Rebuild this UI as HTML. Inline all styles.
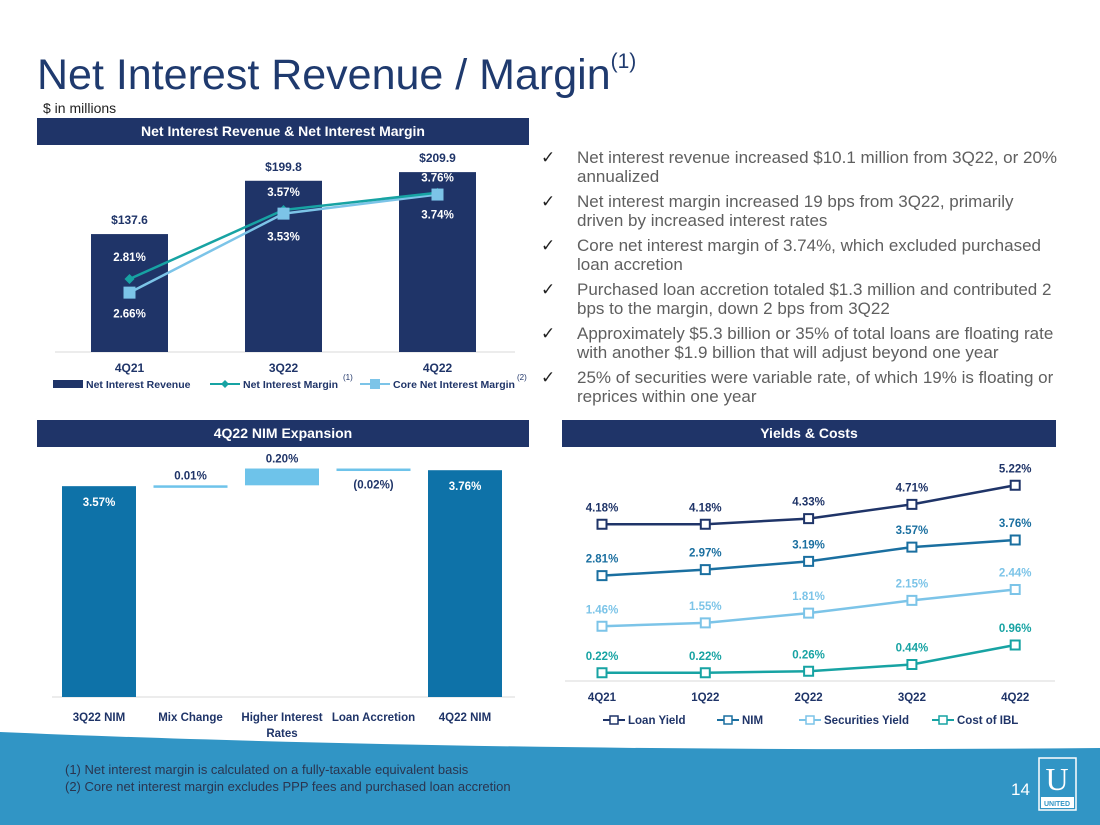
<!DOCTYPE html>
<html><head><meta charset="utf-8">
<style>
body{margin:0;width:1100px;height:825px;position:relative;overflow:hidden;background:#fff;font-family:"Liberation Sans",sans-serif}
.hdr{position:absolute;background:#1f3468;color:#fff;font-weight:bold;font-size:14px;text-align:center;line-height:27px;height:27px}
.bul{position:absolute;left:541px;width:520px;font-size:17px;color:#5f5f5f;line-height:19px}
.bul div{position:relative;padding-left:36px;margin-bottom:6px}
.bul div span{position:absolute;left:0;top:0;color:#222}
svg text{font-family:"Liberation Sans",sans-serif;font-weight:bold}
</style></head><body>
<div style="position:absolute;left:37px;top:51px;font-size:43px;color:#1f3a6e;white-space:nowrap">Net Interest Revenue / Margin<sup style="font-size:21px;position:relative;top:-6px">(1)</sup></div>
<div style="position:absolute;left:43px;top:100px;font-size:14px;color:#222">$ in millions</div>
<div class="hdr" style="left:37px;top:118px;width:492px">Net Interest Revenue &amp; Net Interest Margin</div>
<div class="hdr" style="left:37px;top:420px;width:492px">4Q22 NIM Expansion</div>
<div class="hdr" style="left:562px;top:420px;width:494px">Yields &amp; Costs</div>

<div class="bul" style="top:148px">
<div><span>✓</span>Net interest revenue increased $10.1 million from 3Q22, or 20% annualized</div>
<div><span>✓</span>Net interest margin increased 19 bps from 3Q22, primarily driven by increased interest rates</div>
<div><span>✓</span>Core net interest margin of 3.74%, which excluded purchased loan accretion</div>
<div><span>✓</span>Purchased loan accretion totaled $1.3 million and contributed 2 bps to the margin, down 2 bps from 3Q22</div>
<div><span>✓</span>Approximately $5.3 billion or 35% of total loans are floating rate with another $1.9 billion that will adjust beyond one year</div>
<div><span>✓</span>25% of securities were variable rate, of which 19% is floating or reprices within one year</div>
</div>

<svg id="s" width="1100" height="825" style="position:absolute;left:0;top:0">
<path d="M0,732 C300,745 700,752 1100,748 L1100,825 L0,825 Z" fill="#3195c5"/>
<g id="top"></g><g id="wf"></g><g id="yc"></g>
<text x="65" y="774" font-size="13" fill="#2a3550" style="font-weight:normal">(1)   Net interest margin is calculated on a fully-taxable equivalent basis</text>
<text x="65" y="791" font-size="13" fill="#2a3550" style="font-weight:normal">(2)   Core net interest margin excludes PPP fees and purchased loan accretion</text>
<text x="1011" y="795" font-size="17" fill="#fff" style="font-weight:normal">14</text>
<g><rect x="1039" y="758" width="37" height="52" fill="none" stroke="#fff" stroke-width="1.5"/><text x="1057" y="790" font-size="32" fill="#fff" text-anchor="middle" style="font-family:'Liberation Serif',serif;font-weight:normal">U</text><rect x="1041" y="797" width="33" height="11" fill="#fff"/><text x="1057" y="806" font-size="7" fill="#3195c5" text-anchor="middle">UNITED</text></g>
</svg>
<script>
const NS="http://www.w3.org/2000/svg";
function el(p,t,a,txt){const e=document.createElementNS(NS,t);for(const k in a)e.setAttribute(k,a[k]);if(txt!==undefined)e.textContent=txt;p.appendChild(e);return e;}
// ---- top chart data
const topCats=["4Q21","3Q22","4Q22"];
const nirVals=[137.6,199.8,209.9];
const nimVals=[2.81,3.57,3.76];
const coreVals=[2.66,3.53,3.74];
// ---- waterfall data
const wfCats=["3Q22 NIM","Mix Change","Higher Interest|Rates","Loan Accretion","4Q22 NIM"];
const wfVals=[3.57,0.01,0.20,-0.02,3.76];
const wfLabels=["3.57%","0.01%","0.20%","(0.02%)","3.76%"];
// ---- yields data
const ycCats=["4Q21","1Q22","2Q22","3Q22","4Q22"];
const loanYield=[4.18,4.18,4.33,4.71,5.22];
const nimSeries=[2.81,2.97,3.19,3.57,3.76];
const secYield=[1.46,1.55,1.81,2.15,2.44];
const costIBL=[0.22,0.22,0.26,0.44,0.96];

// top chart
(function(){
const g=document.getElementById('top');
const xC=i=>129.5+i*154, yB=v=>352-v*0.857, yL=v=>279-(v-2.81)*90.8;
let a=el(g,'line',{x1:55,y1:352,x2:515,y2:352,stroke:'#d9d9d9'});

nirVals.forEach((v,i)=>{
 const r=el(g,'rect',{x:xC(i)-38.5,y:yB(v),width:77,height:352-yB(v),fill:'#1f3468'});
 
 const t=el(g,'text',{x:xC(i),y:yB(v)-10,'font-size':12,fill:'#1f3468','text-anchor':'middle'},'$'+v.toFixed(1));
 
 const c=el(g,'text',{x:xC(i),y:372,'font-size':12,fill:'#1f3468','text-anchor':'middle'},topCats[i]);
 
});
const pl=(vals,col,nm)=>{const p=el(g,'polyline',{points:vals.map((v,i)=>xC(i)+','+yL(v)).join(' '),fill:'none',stroke:col,'stroke-width':2.5});};
pl(coreVals,'#7cc4e8','core-nim-line');pl(nimVals,'#17a3a3','nim-line');
nimVals.forEach((v,i)=>{const d=el(g,'path',{d:`M${xC(i)},${yL(v)-5}l5,5l-5,5l-5,-5z`,fill:'#17a3a3'});
 const t=el(g,'text',{x:xC(i),y:yL(v)-(i==0?18:i==1?14:11),'font-size':11.5,fill:'#fff','text-anchor':'middle'},v.toFixed(2)+'%');});
coreVals.forEach((v,i)=>{const r=el(g,'rect',{x:xC(i)-6,y:yL(v)-6,width:12,height:12,fill:'#7cc4e8'});
 const t=el(g,'text',{x:xC(i),y:yL(v)+(i==0?25:i==1?27:24),'font-size':11.5,fill:'#fff','text-anchor':'middle'},v.toFixed(2)+'%');});
// legend
let lg=el(g,'g',{});
el(lg,'rect',{x:53,y:380,width:30,height:8,fill:'#1f3468'});
el(lg,'text',{x:86,y:388,'font-size':10.5,fill:'#1f3468'},'Net Interest Revenue');
el(lg,'line',{x1:210,y1:384,x2:240,y2:384,stroke:'#17a3a3','stroke-width':2});
el(lg,'path',{d:'M225,380l4,4l-4,4l-4,-4z',fill:'#17a3a3'});
el(lg,'text',{x:243,y:388,'font-size':10.5,fill:'#1f3468'},'Net Interest Margin');
el(lg,'text',{x:343,y:380,'font-size':8,fill:'#1f3468',style:'font-weight:normal'},'(1)');
el(lg,'line',{x1:360,y1:384,x2:390,y2:384,stroke:'#7cc4e8','stroke-width':2});
el(lg,'rect',{x:370,y:379,width:10,height:10,fill:'#7cc4e8'});
el(lg,'text',{x:393,y:388,'font-size':10.5,fill:'#1f3468'},'Core Net Interest Margin');
el(lg,'text',{x:517,y:380,'font-size':8,fill:'#1f3468',style:'font-weight:normal'},'(2)');
})();

// waterfall
(function(){
const g=document.getElementById('wf');
const xC=i=>99+i*91.5, y=v=>697-(v-1.06)*84;
let a=el(g,'line',{x1:52,y1:697,x2:515,y2:697,stroke:'#d9d9d9'});
let run=0;
wfVals.forEach((v,i)=>{
 let top,bot,col;
 if(i==0||i==wfVals.length-1){run=v;top=y(v);bot=697;col='#0e72a8';}
 else{const s=run,e=run+v;run=e;top=y(Math.max(s,e));bot=y(Math.min(s,e));col='#6ec3ea';}
 const h=Math.max(bot-top,2.5);
 const r=el(g,'rect',{x:xC(i)-37,y:top,width:74,height:h,fill:col});
 
 const ly=(i==0||i==4)?top+20:top-6;
 const t=el(g,'text',{x:xC(i),y:ly,'font-size':11.5,fill:(i==0||i==4)?'#fff':'#1f3468','text-anchor':'middle'},wfLabels[i]);
 if(i==3)t.setAttribute('y',top+20);
 
 wfCats[i].split('|').forEach((s,j)=>{const c=el(g,'text',{x:xC(i),y:721+j*16,'font-size':11.5,fill:'#1f3468','text-anchor':'middle'},s);});
});
})();

// yields & costs
(function(){
const g=document.getElementById('yc');
const xC=i=>602+i*103.3, y=v=>681-37.5*v;
let a=el(g,'line',{x1:565,y1:681,x2:1055,y2:681,stroke:'#d9d9d9'});
ycCats.forEach((c,i)=>{const t=el(g,'text',{x:xC(i),y:701,'font-size':11.5,fill:'#1f3468','text-anchor':'middle'},c);});
const series=[[loanYield,'#1f3468','loan-yield'],[nimSeries,'#1a6fa0','nim'],[secYield,'#7cc4e8','securities-yield'],[costIBL,'#17a3a3','cost-of-ibl']];
series.forEach(([vals,col,nm])=>{
 const p=el(g,'polyline',{points:vals.map((v,i)=>xC(i)+','+y(v)).join(' '),fill:'none',stroke:col,'stroke-width':2.5});
 
 vals.forEach((v,i)=>{
  const r=el(g,'rect',{x:xC(i)-4.5,y:y(v)-4.5,width:9,height:9,fill:'#fff',stroke:col,'stroke-width':2});
  
  const t=el(g,'text',{x:xC(i),y:y(v)-13,'font-size':11.5,fill:col,'text-anchor':'middle'},v.toFixed(2)+'%');
  
 });
});
const names=['Loan Yield','NIM','Securities Yield','Cost of IBL'];const lx=[603,717,799,932];
series.forEach(([v,col,nm],k)=>{
 const lg=el(g,'g',{});
 el(lg,'line',{x1:lx[k],y1:720,x2:lx[k]+22,y2:720,stroke:col,'stroke-width':2});
 el(lg,'rect',{x:lx[k]+7,y:716,width:8,height:8,fill:'#fff',stroke:col,'stroke-width':1.5});
 el(lg,'text',{x:lx[k]+25,y:724,'font-size':11.5,fill:'#1f3468'},names[k]);
});
})();
</script>
</body></html>
